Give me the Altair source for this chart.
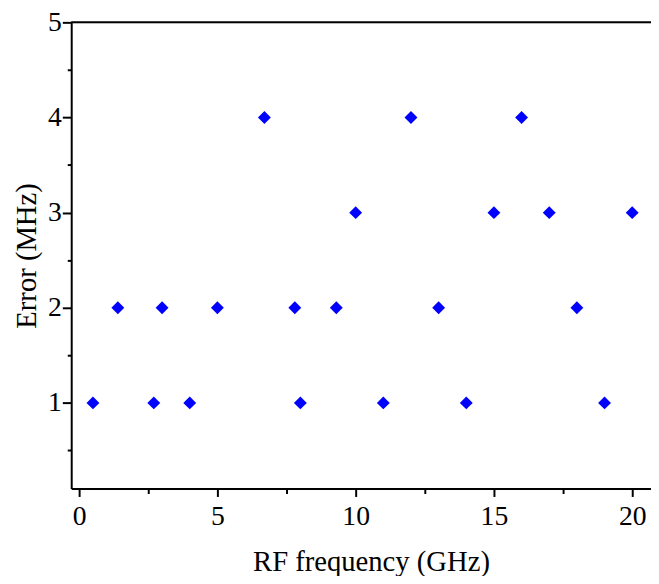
import altair as alt
import pandas as pd

freq = [0.5, 1.4, 2.7, 3.0, 4.0, 5.0, 6.7, 7.8, 8.0, 9.3, 10.0, 11.0, 12.0, 13.0, 14.0, 15.0, 16.0, 17.0, 18.0, 19.0, 20.0]
err = [1, 2, 1, 2, 1, 2, 4, 2, 1, 2, 3, 1, 4, 2, 1, 3, 4, 3, 2, 1, 3]
x_ticks = [0, 2.5, 5, 7.5, 10, 12.5, 15, 17.5, 20]
y_ticks = [0.5, 1, 1.5, 2, 2.5, 3, 3.5, 4, 4.5, 5]

df = pd.DataFrame({"f": freq, "e": err})
W, H = 587, 472
FONT = "Liberation Serif"

xaxis = alt.Axis(
    values=x_ticks, title="RF frequency (GHz)", grid=False,
    labelExpr="datum.value % 5 === 0 ? format(datum.value, 'd') : ''",
    tickSize={"condition": {"test": "datum.value % 5 === 0", "value": 8}, "value": 5},
    labelFontSize=28, titleFontSize=29, labelFont=FONT, titleFont=FONT,
    titleFontWeight="normal", labelColor="black", titleColor="black",
    domainColor="black", tickColor="black", domainWidth=2, tickWidth=2,
    labelPadding=6, titlePadding=18, labelFlush=False, titleX=W / 2 + 10,
)
yaxis = alt.Axis(
    values=y_ticks, title="Error (MHz)", grid=False,
    labelExpr="datum.value % 1 === 0 ? format(datum.value, 'd') : ''",
    tickSize={"condition": {"test": "datum.value % 1 === 0", "value": 9}, "value": 4},
    labelFontSize=28, titleFontSize=29, labelFont=FONT, titleFont=FONT,
    titleFontWeight="normal", labelColor="black", titleColor="black",
    domainColor="black", tickColor="black", domainWidth=2, tickWidth=2,
    labelPadding=1, titlePadding=6, labelFlush=False,
)

points = alt.Chart(df).mark_point(
    shape="diamond", filled=True, size=170, color="#0000FF", opacity=1
).encode(
    x=alt.X("f:Q", scale=alt.Scale(domain=[-0.286, 20.68], nice=False, zero=False), axis=xaxis),
    y=alt.Y("e:Q", scale=alt.Scale(domain=[0.1, 5], nice=False, zero=False), axis=yaxis),
)

top = alt.Chart(pd.DataFrame({"v": [5]})).mark_rule(color="black", strokeWidth=2).encode(
    y=alt.Y("v:Q"), x=alt.value(0), x2=alt.value(W)
)

chart = alt.layer(points, top).properties(
    width=W, height=H,
    autosize=alt.AutoSizeParams(type="none"),
    padding={"left": 64, "top": 11, "right": 0, "bottom": 85},
).configure_view(stroke=None).configure(background="white", font=FONT)

chart.save("out.html", embed_options={"renderer": "svg", "actions": False})
